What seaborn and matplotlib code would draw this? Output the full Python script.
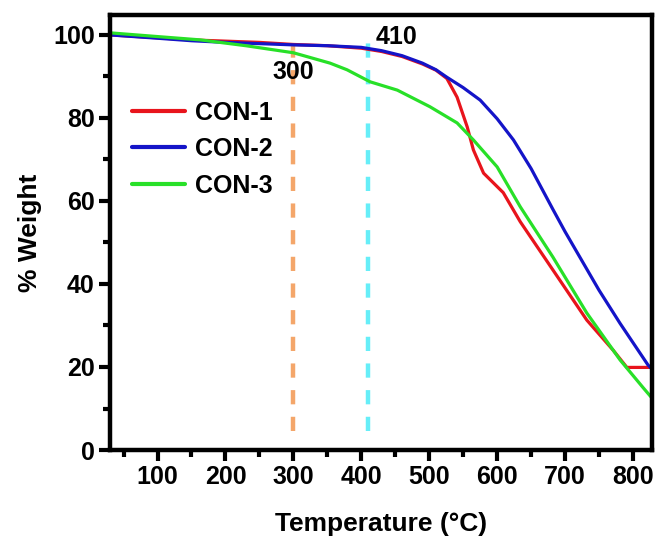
import numpy as np
import pandas as pd
import seaborn as sns
import matplotlib.pyplot as plt
from matplotlib.ticker import MultipleLocator

sns.set_theme(style="white")
plt.rcParams['font.family'] = ['Liberation Sans', 'DejaVu Sans']
plt.rcParams['font.weight'] = 'bold'
plt.rcParams['text.color'] = 'black'
plt.rcParams['axes.labelcolor'] = 'black'
plt.rcParams['xtick.color'] = 'black'
plt.rcParams['ytick.color'] = 'black'

# TGA curves (temperature in C, weight in %)
con1_temp = [30, 100, 150, 200, 250, 300, 350, 400, 430, 460, 490, 510, 526, 541, 556, 565, 580, 609, 634, 682, 732, 771, 791, 828]
con1_wt = [100, 99.3, 98.8, 98.5, 98.2, 97.7, 97.4, 96.8, 96.0, 94.8, 93.0, 91.5, 89.5, 85.0, 77.8, 72.3, 66.7, 62.0, 55.0, 43.4, 31.3, 24.0, 19.9, 19.9]

con2_temp = [30, 100, 150, 200, 250, 300, 350, 400, 430, 460, 490, 510, 526, 550, 575, 600, 624, 650, 682, 700, 750, 781, 822, 828]
con2_wt = [100, 99.2, 98.6, 98.2, 97.9, 97.6, 97.4, 97.0, 96.2, 95.0, 93.2, 91.6, 89.8, 87.3, 84.3, 79.8, 74.7, 67.8, 58.0, 52.6, 38.5, 30.5, 20.5, 19.5]

con3_temp = [30, 100, 163, 230, 300, 354, 379, 413, 453, 501, 541, 565, 600, 634, 682, 732, 781, 815, 828]
con3_wt = [100.5, 99.6, 98.8, 97.4, 95.7, 93.2, 91.6, 88.7, 86.7, 82.7, 78.8, 74.7, 68.2, 58.6, 46.5, 33.0, 21.7, 15.0, 12.5]

series_names = ["CON-1", "CON-2", "CON-3"]
series_colors = ["#e8141c", "#1414c8", "#28e028"]

marker_temps = [300, 410]
marker_colors = ["#f4a66a", "#66eef8"]

frames = []
for name, t, w in zip(series_names, [con1_temp, con2_temp, con3_temp], [con1_wt, con2_wt, con3_wt]):
    frames.append(pd.DataFrame({"Temperature": t, "Weight": w, "Sample": name}))
df = pd.concat(frames, ignore_index=True)

fig = plt.figure(figsize=(6.61, 5.47), dpi=100)
ax = fig.add_axes([0.1664, 0.1773, 0.82, 0.7953])

sns.lineplot(data=df, x="Temperature", y="Weight", hue="Sample",
             palette=dict(zip(series_names, series_colors)), linewidth=2.3,
             ax=ax, sort=False)

# dashed guide lines
for t, c in zip(marker_temps, marker_colors):
    ax.plot([t, t], [4.5, 100.8], color=c, linestyle=(0, (3.2, 2.8)), linewidth=3.2, zorder=1)
ax.text(300, 91, "300", fontsize=18, fontweight='bold', ha='center', va='center')
ax.text(421, 99.6, "410", fontsize=18, fontweight='bold', ha='left', va='center')

ax.set_xlim(30, 828)
ax.set_ylim(0, 104.8)
ax.xaxis.set_major_locator(MultipleLocator(100))
ax.xaxis.set_minor_locator(MultipleLocator(50))
ax.yaxis.set_major_locator(MultipleLocator(20))
ax.yaxis.set_minor_locator(MultipleLocator(10))
ax.tick_params(which='major', direction='out', length=8, width=3, labelsize=18,
               bottom=True, left=True, top=False, right=False, color='black', pad=3)
ax.tick_params(which='minor', direction='out', length=5, width=3, color='black',
               bottom=True, left=True, top=False, right=False)
for lab in ax.get_xticklabels() + ax.get_yticklabels():
    lab.set_fontweight('bold')
for s in ax.spines.values():
    s.set_linewidth(3.2)
    s.set_color('black')

ax.set_xlabel("Temperature (°C)", fontsize=19, fontweight='bold', labelpad=16)
ax.set_ylabel("% Weight", fontsize=19, fontweight='bold', labelpad=8)

leg = ax.legend(loc='upper left', bbox_to_anchor=(0.0, 0.855), frameon=False,
                fontsize=18, handlelength=2.1, labelspacing=0.5, handletextpad=0.4)
for t in leg.get_texts():
    t.set_fontweight('bold')
for l in leg.get_lines():
    l.set_linewidth(3)

fig.savefig("out.png", dpi=100)
